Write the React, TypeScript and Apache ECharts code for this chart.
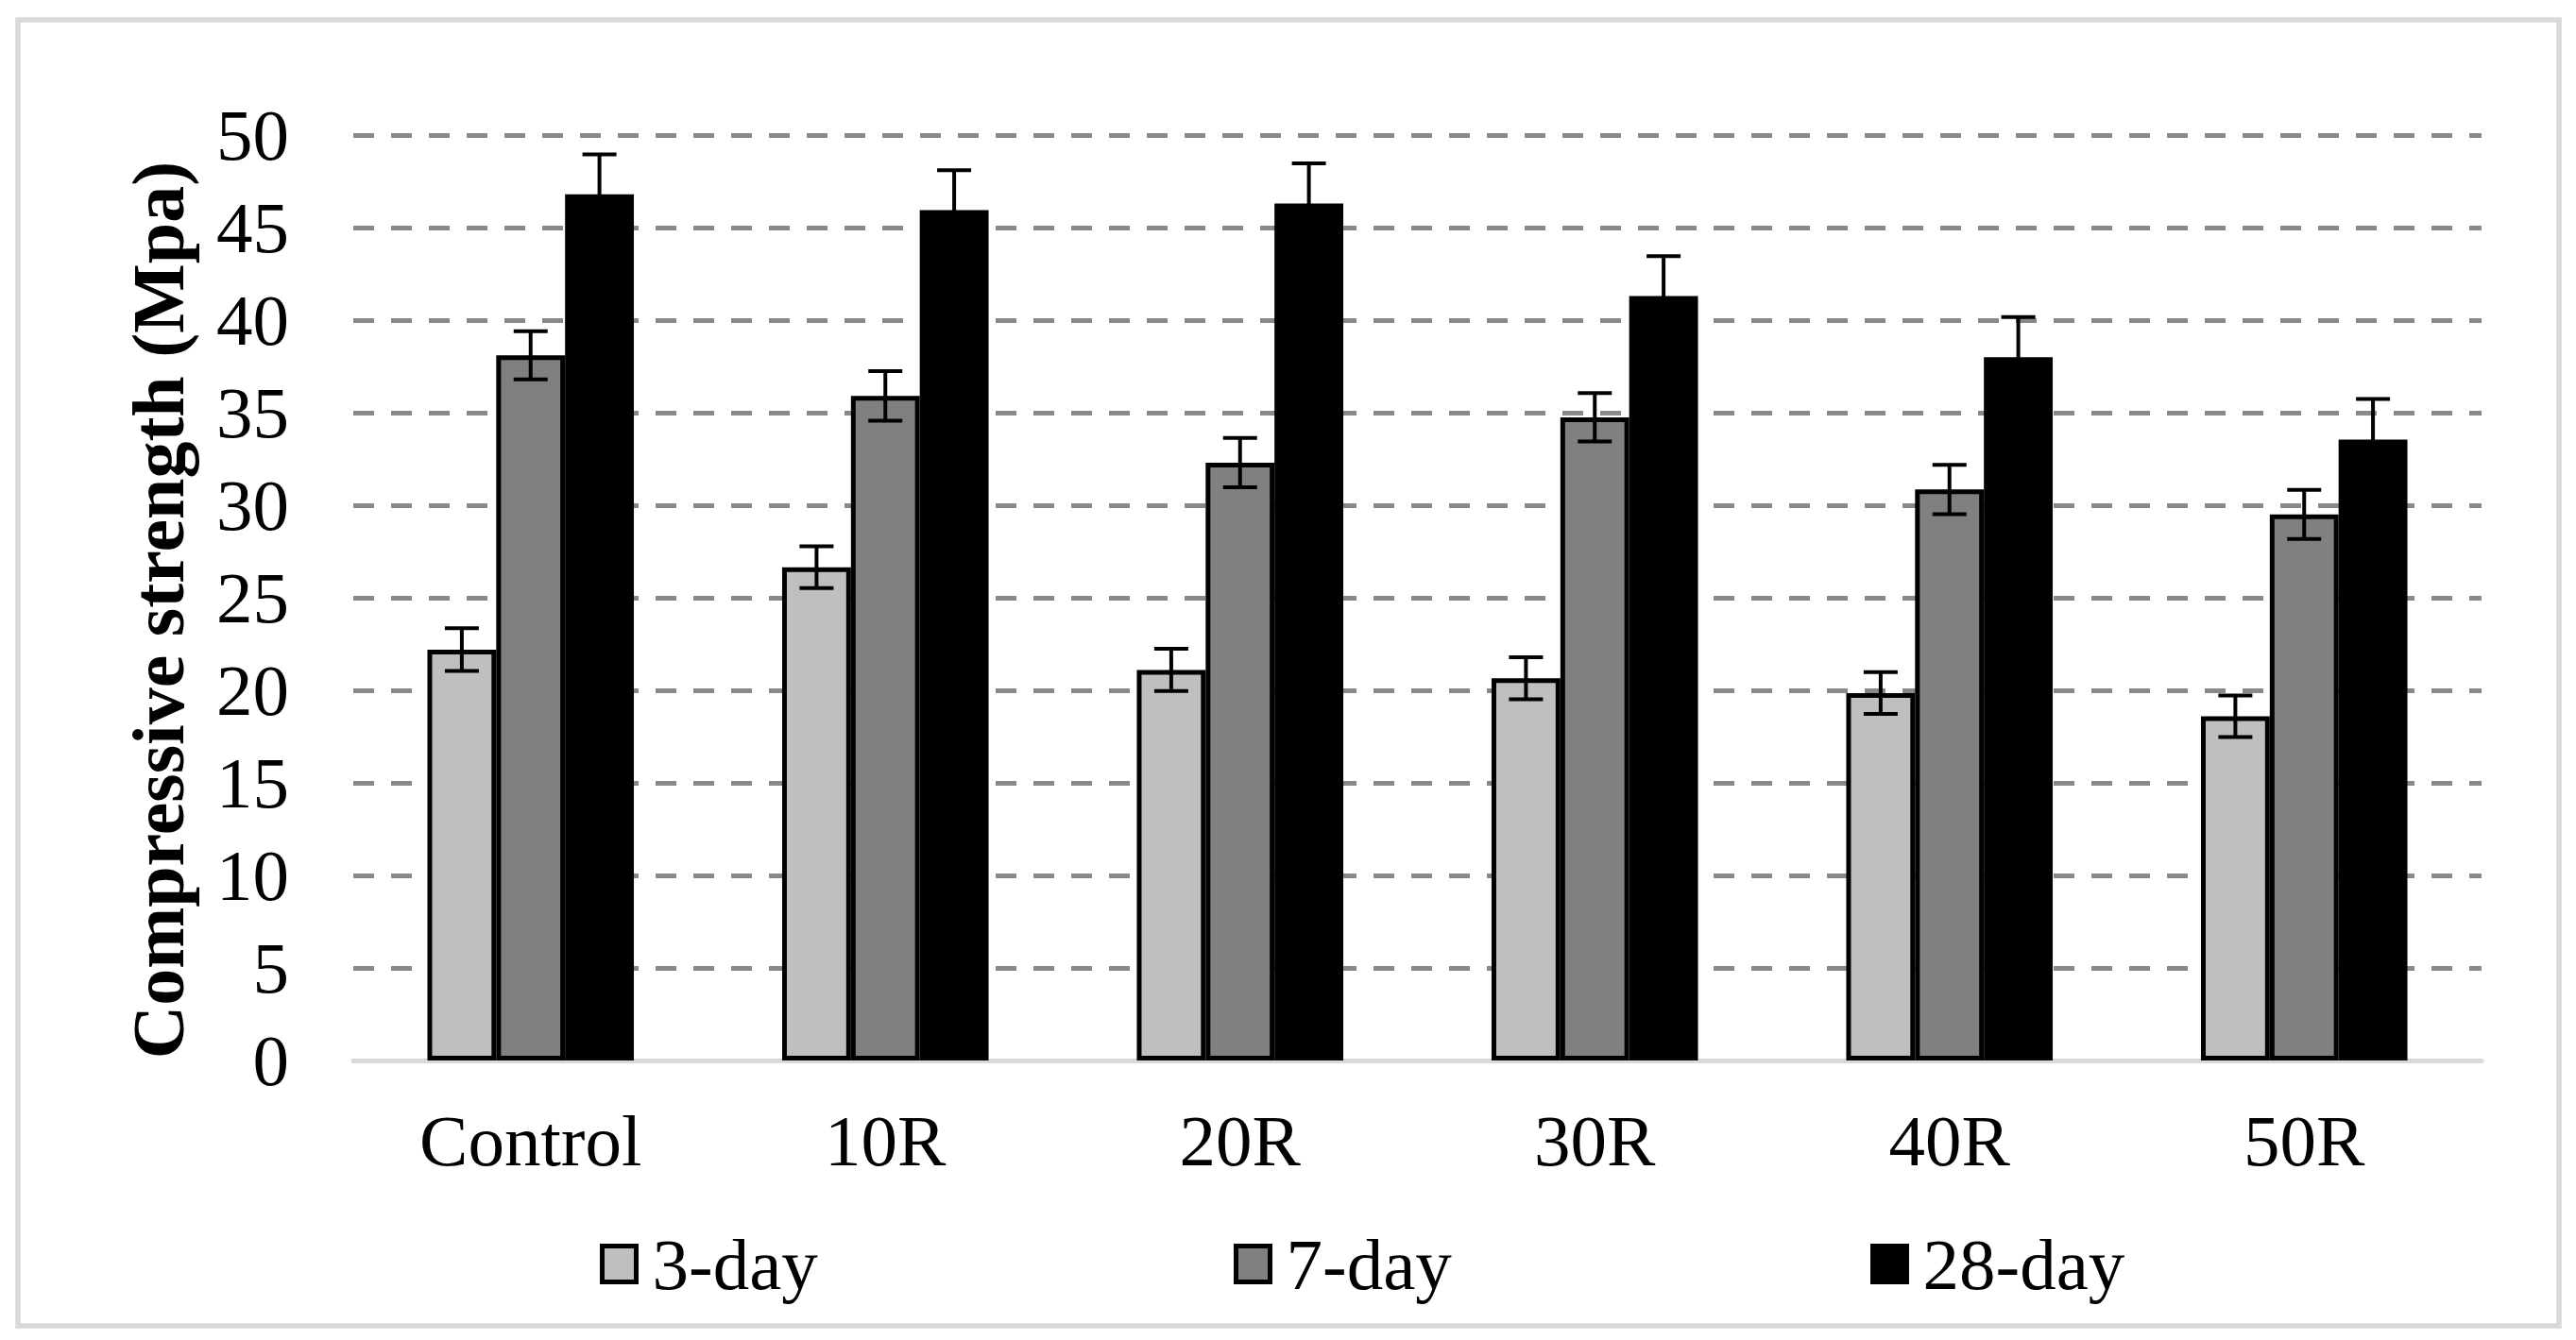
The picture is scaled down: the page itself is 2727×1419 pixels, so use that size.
import React, { useEffect, useRef } from "react";
import * as echarts from "echarts";

const categories = ["Control", "10R", "20R", "30R", "40R", "50R"];
const seriesNames = ["3-day", "7-day", "28-day"];
const day3 = [22.2, 26.65, 21.1, 20.65, 19.85, 18.6];
const day7 = [38.1, 35.9, 32.3, 34.75, 30.85, 29.5];
const day28 = [46.8, 45.95, 46.3, 41.3, 38.0, 33.55];
const err3 = [1.15, 1.13, 1.14, 1.14, 1.13, 1.12];
const err7 = [1.3, 1.34, 1.33, 1.31, 1.33, 1.33];
const err28 = [2.15, 2.15, 2.17, 2.16, 2.17, 2.19];
const colors = ["#bfbfbf", "#808080", "#000000"];
const yTicks = [0, 5, 10, 15, 20, 25, 30, 35, 40, 45, 50];

const FONT = "Liberation Serif";
const BAR_FRAC = 0.194;

export default function App() {
  const ref = useRef<HTMLDivElement>(null);
  useEffect(() => {
    if (!ref.current) return;
    const chart = echarts.init(ref.current, null, { renderer: "svg" });
    const values = [day3, day7, day28];
    const errs = [err3, err7, err28];

    const barSeries = seriesNames.map((name, si) => ({
      name,
      type: "bar",
      data: values[si],
      barWidth: BAR_FRAC * 100 + "%",
      barGap: "0%",
      z: 2,
      itemStyle: { color: colors[si], borderColor: "#000", borderWidth: 5 },
    }));

    const errSeries = seriesNames.map((name, si) => ({
      name: name + " err",
      type: "custom",
      z: 5,
      data: values[si].map((v, i) => [i, v, errs[si][i]]),
      encode: { x: 0, y: 1 },
      renderItem: (params: any, api: any) => {
        const idx = api.value(0);
        const v = api.value(1);
        const e = api.value(2);
        const c = api.coord([idx, v]);
        const band = api.size([1, 0])[0];
        const bw = band * BAR_FRAC;
        const x = c[0] + (si - 1) * bw;
        const yt = api.coord([idx, v + e])[1];
        const yb = api.coord([idx, v - e])[1];
        const hw = 18;
        const st = { stroke: "#000", lineWidth: 4 };
        return {
          type: "group",
          children: [
            { type: "line", shape: { x1: x, y1: yt, x2: x, y2: yb }, style: st },
            { type: "line", shape: { x1: x - hw, y1: yt, x2: x + hw, y2: yt }, style: st },
            { type: "line", shape: { x1: x - hw, y1: yb, x2: x + hw, y2: yb }, style: st },
          ],
        };
      },
    }));

    const legendLefts = [635, 1306, 1980];
    const legends = seriesNames.map((name, si) => ({
      data: [name],
      left: legendLefts[si],
      top: 1300,
      padding: 0,
      icon: "rect",
      itemWidth: 36,
      itemHeight: 38,
      itemStyle: { borderColor: "#000", borderWidth: 5 },
      textStyle: {
        fontFamily: FONT,
        fontSize: 77,
        color: "#000",
        lineHeight: 77,
        padding: [0, 0, 0, 12],
      },
    }));

    chart.setOption({
      animation: false,
      backgroundColor: "#fff",
      grid: { left: 374, right: 100, top: 143, bottom: 296, containLabel: false },
      legend: legends,
      xAxis: {
        type: "category",
        data: categories,
        axisLine: { show: true, lineStyle: { color: "#d9d9d9", width: 5 } },
        axisTick: { show: false },
        axisLabel: {
          fontFamily: FONT,
          fontSize: 77,
          lineHeight: 77,
          color: "#000",
          margin: 46,
        },
      },
      yAxis: {
        type: "value",
        min: yTicks[0],
        max: yTicks[yTicks.length - 1],
        interval: 5,
        axisLine: { show: false },
        axisTick: { show: false },
        axisLabel: {
          fontFamily: FONT,
          fontSize: 77,
          color: "#000",
          margin: 68,
        },
        splitLine: {
          show: true,
          lineStyle: { color: "#898989", width: 5, type: [22, 18] },
        },
      },
      graphic: [
        {
          type: "rect",
          shape: { x: 19, y: 21, width: 2690, height: 1383 },
          style: { fill: "none", stroke: "#d9d9d9", lineWidth: 5.5 },
          z: 0,
        },
        {
          type: "text",
          x: 167,
          y: 646,
          rotation: Math.PI / 2,
          style: {
            text: "Compressive strength (Mpa)",
            fontFamily: FONT,
            fontWeight: "bold",
            fontSize: 78,
            fill: "#000",
            textAlign: "center",
            textVerticalAlign: "middle",
          },
        },
      ],
      series: [...barSeries, ...errSeries],
    });
    return () => chart.dispose();
  }, []);
  return (
    <div
      ref={ref}
      style={{ position: "fixed", left: 0, top: 0, width: "2727px", height: "1419px", background: "#fff" }}
    />
  );
}
